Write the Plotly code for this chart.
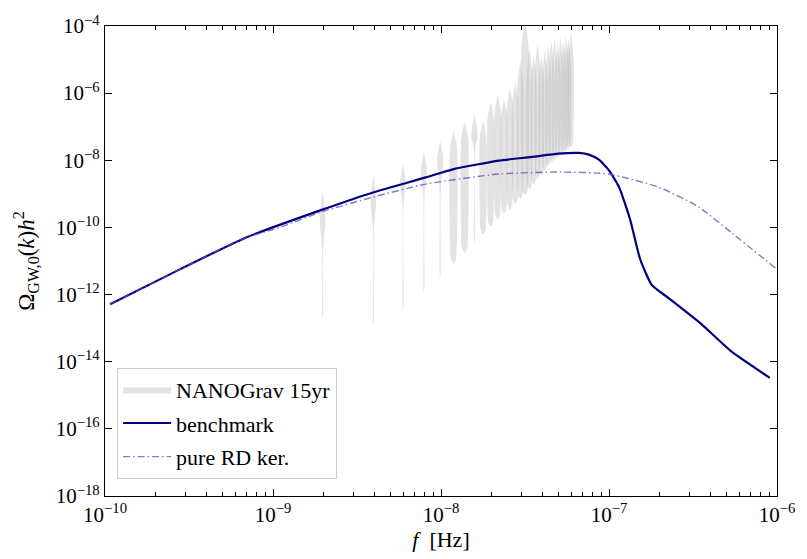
import plotly.graph_objects as go

# ---------------- data (log10 values) ----------------
# benchmark curve
bench_logf = [-9.97, -9.555, -9.17, -8.706, -8.40, -8.09, -7.93, -7.656, -7.46, -7.30, -7.18,
              -7.12, -7.06, -7.00, -6.94, -6.874, -6.815, -6.746, -6.647, -6.45, -6.27, -6.043]
bench_logO = [-12.29, -11.25, -10.32, -9.47, -8.95, -8.51, -8.27, -8.01, -7.90, -7.80, -7.78,
              -7.83, -7.98, -8.30, -8.80, -9.77, -10.94, -11.71, -12.10, -12.88, -13.70, -14.48]

# pure radiation-domination kernel curve
rd_logf = [-9.97, -9.555, -9.17, -8.96, -8.706, -8.40, -8.09, -7.656, -7.30, -7.003, -6.706, -6.47, -6.27, -6.0]
rd_logO = [-12.29, -11.25, -10.32, -10.0, -9.53, -9.09, -8.71, -8.41, -8.35, -8.41, -8.80, -9.38, -10.16, -11.25]

# NANOGrav 15yr violins: frequency bins k/T
ng_f1 = 1.977e-9
ng_k = list(range(1, 31))
ng_top = [-8.89, -8.39, -8.13, -7.73, -7.43, -7.11, -6.85, -6.59, -6.82, -6.27,
          -6.04, -6.18, -5.83, -5.69, -5.02, -3.70, -4.67, -4.87, -4.52, -4.87,
          -4.73, -4.58, -4.44, -4.38, -4.49, -4.35, -4.44, -4.29, -4.38, -4.15]
ng_peak = [-9.82, -9.24, -8.66, -8.31, -7.96, -7.64, -7.35, -7.29, -7.35, -6.79,
           -6.62, -6.76, -6.47, -6.33, -5.90, -4.80, -5.60, -5.75, -5.45, -5.75,
           -5.60, -5.50, -5.40, -5.30, -5.40, -5.30, -5.35, -5.20, -5.30, -5.10]
ng_neck = [-10.64, -10.02, -9.38, -9.09, -8.89, -10.84, -10.55, -7.64, -9.97, -9.73,
           -9.53, -9.36, -9.24, -9.06, -8.92, -8.80, -8.63, -8.48, -8.34, -8.22,
           -8.08, -7.93, -7.84, -7.76, -7.70, -7.61, -7.55, -7.50, -7.44, -7.38]
ng_bottom = [-12.73, -12.93, -12.53, -11.95, -11.48, -11.07, -10.75, -10.46, -10.20, -9.97,
             -9.76, -9.59, -9.47, -9.30, -9.15, -9.03, -8.86, -8.71, -8.57, -8.45,
             -8.31, -8.16, -8.07, -7.99, -7.93, -7.84, -7.78, -7.73, -7.67, -7.61]
# half widths (dex in frequency) at peak and at neck
ng_wpeak = [0.0166, 0.0166, 0.0166, 0.0178, 0.0178, 0.0208, 0.0208, 0.0190, 0.0196, 0.0196,
            0.0190, 0.0190, 0.0185, 0.0185, 0.0190, 0.0230, 0.0180, 0.0175, 0.0175, 0.0170,
            0.0170, 0.0165, 0.0165, 0.0160, 0.0160, 0.0160, 0.0160, 0.0160, 0.0165, 0.0170]
ng_wneck = [0.0036, 0.0036, 0.0036, 0.0036, 0.0040, 0.0178, 0.0178, 0.0047, 0.0166, 0.0166,
            0.0160, 0.0160, 0.0155, 0.0155, 0.0160, 0.0180, 0.0150, 0.0150, 0.0145, 0.0145,
            0.0140, 0.0140, 0.0140, 0.0135, 0.0135, 0.0135, 0.0135, 0.0135, 0.0140, 0.0140]

# tick labels
x_tick_exp = [-10, -9, -8, -7, -6]
y_tick_exp = [-18, -16, -14, -12, -10, -8, -6, -4]

# ---------------- figure ----------------
fig = go.Figure()

for i, k in enumerate(ng_k):
    fk = k * ng_f1
    top, peak, neck, bot = ng_top[i], ng_peak[i], ng_neck[i], ng_bottom[i]
    w, wn = ng_wpeak[i], ng_wneck[i]
    thin = wn < 0.006
    near_bot = bot + 0.15 if thin else (neck + bot) / 2
    lv = [top, (top + peak) / 2, peak, neck, near_bot, bot]
    wd = [0, 0.6 * w, w, wn, 0.8 * wn, 0]
    xs = [fk * 10 ** d for d in wd] + [fk * 10 ** (-d) for d in wd[-2:0:-1]]
    ys = [10 ** l for l in lv] + [10 ** l for l in lv[-2:0:-1]]
    fig.add_trace(go.Scatter(
        x=xs, y=ys, mode="lines", fill="toself",
        fillcolor="rgba(185,185,185,0.40)",
        line=dict(width=0, shape="spline", smoothing=1.0),
        name="NANOGrav 15yr", legendgroup="ng", showlegend=(i == 0),
        hoverinfo="skip"))

fig.add_trace(go.Scatter(
    x=[10 ** v for v in bench_logf], y=[10 ** v for v in bench_logO],
    mode="lines", name="benchmark",
    line=dict(color="#000080", width=2.2, shape="spline", smoothing=0.5)))

fig.add_trace(go.Scatter(
    x=[10 ** v for v in rd_logf], y=[10 ** v for v in rd_logO],
    mode="lines", name="pure RD ker.",
    line=dict(color="rgba(80,80,185,0.75)", width=1.4, dash="7px,3px,1.5px,3px",
              shape="spline", smoothing=0.6)))

FONT = "Liberation Serif, DejaVu Serif, serif"
minor_x = [m * 10.0 ** e for e in range(-10, -6) for m in range(2, 10)]

def lab(e):
    return "10<sup>\u2212%d</sup>" % (-e)

fig.update_layout(
    width=807, height=559,
    margin=dict(l=105, r=28, t=15, b=63),
    plot_bgcolor="white", paper_bgcolor="white",
    font=dict(family=FONT, size=20, color="black"),
    showlegend=True,
    legend=dict(x=0.018, y=0.037, xanchor="left", yanchor="bottom",
                bgcolor="rgba(255,255,255,0.9)", bordercolor="#cccccc", borderwidth=1,
                font=dict(family=FONT, size=22), itemwidth=48,
                tracegroupgap=2),
    xaxis=dict(type="log", range=[-10, -6], showgrid=False, zeroline=False,
               showline=True, linecolor="black", linewidth=1.2, mirror="allticks",
               ticks="inside", ticklen=7, tickwidth=1, tickcolor="black",
               tickmode="array", tickvals=[10.0 ** e for e in x_tick_exp],
               ticktext=[lab(e) for e in x_tick_exp],
               tickfont=dict(family=FONT, size=21),
               minor=dict(tickmode="array", tickvals=minor_x, ticks="inside", ticklen=3.5,
                          tickcolor="black", showgrid=False),
               title=dict(text="<i>f</i>  [Hz]", font=dict(family=FONT, size=22), standoff=2)),
    yaxis=dict(type="log", range=[-18, -4], showgrid=False, zeroline=False,
               showline=True, linecolor="black", linewidth=1.2, mirror="allticks",
               ticks="inside", ticklen=7, tickwidth=1, tickcolor="black",
               tickmode="array", tickvals=[10.0 ** e for e in y_tick_exp],
               ticktext=[lab(e) for e in y_tick_exp],
               tickfont=dict(family=FONT, size=21),
               title=dict(text="Ω<sub>GW,0</sub>(<i>k</i>)<i>h</i><sup>2</sup>",
                          font=dict(family=FONT, size=23), standoff=14)),
)

fig.write_html("out.html")
